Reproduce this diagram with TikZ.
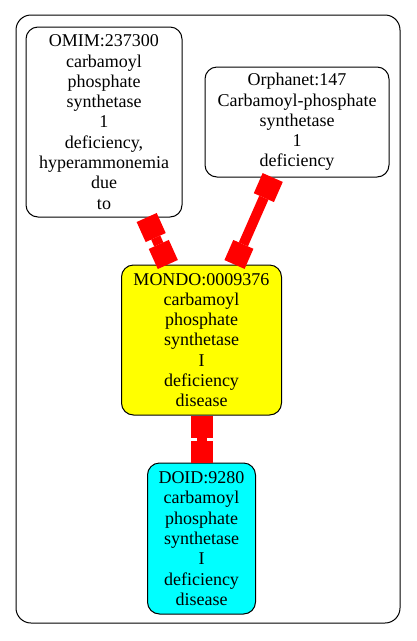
\documentclass[tikz,border=0pt]{standalone}
\usepackage{fontspec}
\setmainfont{Liberation Serif}
\usetikzlibrary{arrows.meta}
\definecolor{termyellow}{RGB}{255,255,0}
\definecolor{termcyan}{RGB}{0,255,255}
\definecolor{linkred}{RGB}{255,0,0}
\tikzset{
  term/.style={draw, line width=1pt, rounded corners=12pt, align=center, inner sep=0pt,
    font=\fontsize{18}{20.3}\selectfont},
  link/.style={draw=linkred, line width=10pt,
    {Square[length=22pt,width=22pt,line width=0pt]}-{Square[length=22pt,width=22pt,line width=0pt]}},
}
\begin{document}
\begin{tikzpicture}[x=1pt,y=-1pt]
  \useasboundingbox (0,0) rectangle (416,641);
  \draw[line width=1pt, rounded corners=15pt] (16,15) rectangle (400,623);
  % terms
  \node[term, minimum width=156pt, minimum height=190pt] (omim) at (104,122)
    {OMIM:237300\\carbamoyl\\phosphate\\synthetase\\1\\deficiency,\\hyperammonemia\\due\\to};
  \node[term, minimum width=184pt, minimum height=110pt] (orpha) at (297,122)
    {Orphanet:147\\Carbamoyl-phosphate\\synthetase\\1\\deficiency};
  \node[term, fill=termyellow, minimum width=160pt, minimum height=150pt] (mondo) at (201.5,340)
    {MONDO:0009376\\carbamoyl\\phosphate\\synthetase\\I\\deficiency\\disease};
  \node[term, fill=termcyan, minimum width=108pt, minimum height=151pt] (doid) at (201.5,538.5)
    {DOID:9280\\carbamoyl\\phosphate\\synthetase\\I\\deficiency\\disease};
  % links
  \draw[link] (omim) -- (mondo);
  \draw[link] (orpha) -- (mondo);
  \draw[link] (mondo) -- (doid);
\end{tikzpicture}
\end{document}
